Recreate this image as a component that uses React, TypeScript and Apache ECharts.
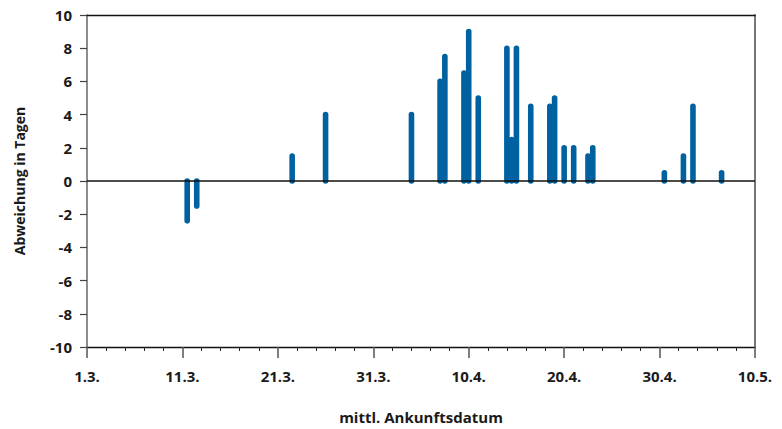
import React, { useEffect, useRef } from "react";
import * as echarts from "echarts";

// days since 1 March (mean arrival date)
const arrivalDay = [10.5, 11.5, 21.5, 25, 34, 37, 37.5, 39.5, 40, 41, 44, 44.5, 45, 46.5, 48.5, 49, 50, 51, 52.5, 53, 60.5, 62.5, 63.5, 66.5];
// deviation in days
const deviation = [-2.4, -1.5, 1.5, 4, 4, 6, 7.5, 6.5, 9, 5, 8, 2.5, 8, 4.5, 4.5, 5, 2, 2, 1.5, 2, 0.5, 1.5, 4.5, 0.5];

const xTickLabels = ["1.3.", "11.3.", "21.3.", "31.3.", "10.4.", "20.4.", "30.4.", "10.5."];
const xTitle = "mittl. Ankunftsdatum";
const yTitle = "Abweichung in Tagen";

const FONT = "'Open Sans', 'Noto Sans', sans-serif";
const BAR = "#0061a0";
const BAR_W = 5.6;

export default function App() {
  const ref = useRef<HTMLDivElement>(null);
  useEffect(() => {
    if (!ref.current) return;
    const chart = echarts.init(ref.current, null, { renderer: "svg" });
    const points = arrivalDay.map((d, i) => [d, deviation[i]]);
    chart.setOption({
      animation: false,
      grid: { left: 87, right: 27, top: 15, bottom: 77 },
      xAxis: [
        {
          type: "value",
          min: 0,
          max: 70,
          interval: 10,
          position: "bottom",
          name: xTitle,
          nameLocation: "middle",
          nameGap: 62,
          nameTextStyle: { fontFamily: FONT, fontWeight: "bold", fontSize: 15, color: "#1a1a1a" },
          axisLine: { show: true, onZero: false, lineStyle: { color: "#111", width: 1.3 } },
          axisTick: { show: true, inside: false, length: 11, lineStyle: { color: "#555", width: 1.5 } },
          minorTick: { show: true, splitNumber: 5, length: 4, lineStyle: { color: "#222", width: 1 } },
          splitLine: { show: false },
          minorSplitLine: { show: false },
          axisLabel: {
            margin: 21,
            fontFamily: FONT,
            fontWeight: "bold",
            fontSize: 15,
            color: "#1a1a1a",
            formatter: (v: number) => xTickLabels[Math.round(v / 10)] ?? "",
          },
        },
        {
          type: "value",
          min: 0,
          max: 70,
          position: "top",
          axisLine: { show: true, onZero: false, lineStyle: { color: "#111", width: 1.3 } },
          axisTick: { show: false },
          axisLabel: { show: false },
          splitLine: { show: false },
        },
      ],
      yAxis: [
        {
          type: "value",
          min: -10,
          max: 10,
          interval: 2,
          position: "left",
          name: yTitle,
          nameLocation: "middle",
          nameGap: 61,
          nameTextStyle: { fontFamily: FONT, fontWeight: "bold", fontSize: 14, color: "#1a1a1a" },
          axisLine: { show: true, onZero: false, lineStyle: { color: "#666", width: 1.5 } },
          axisTick: { show: true, inside: false, length: 7, lineStyle: { color: "#444", width: 1.2 } },
          splitLine: { show: false },
          axisLabel: { margin: 15, fontFamily: FONT, fontWeight: "bold", fontSize: 15, color: "#1a1a1a" },
        },
        {
          type: "value",
          min: -10,
          max: 10,
          position: "right",
          axisLine: { show: true, onZero: false, lineStyle: { color: "#777", width: 2 } },
          axisTick: { show: false },
          axisLabel: { show: false },
          splitLine: { show: false },
        },
      ],
      series: [
        {
          type: "custom",
          xAxisIndex: 0,
          yAxisIndex: 0,
          clip: false,
          encode: { x: 0, y: 1 },
          data: points,
          renderItem: (_params: any, api: any) => {
            const x = api.value(0);
            const v = api.value(1);
            const p0 = api.coord([x, 0]);
            const p1 = api.coord([x, v]);
            const top = Math.min(p0[1], p1[1]);
            const h = Math.abs(p1[1] - p0[1]);
            return {
              type: "rect",
              shape: {
                x: p0[0] - BAR_W / 2,
                y: top - BAR_W / 2,
                width: BAR_W,
                height: h + BAR_W,
                r: BAR_W / 2,
              },
              style: { fill: BAR },
            };
          },
          z: 2,
        },
        {
          type: "line",
          xAxisIndex: 0,
          yAxisIndex: 0,
          data: [[0, 0], [70, 0]],
          symbol: "none",
          lineStyle: { color: "#111", width: 1.3 },
          silent: true,
          z: 3,
        },
      ],
    });
    return () => chart.dispose();
  }, []);
  return (
    <div
      ref={ref}
      style={{ position: "fixed", left: 0, top: 0, width: 782, height: 429, background: "#fff" }}
    />
  );
}
